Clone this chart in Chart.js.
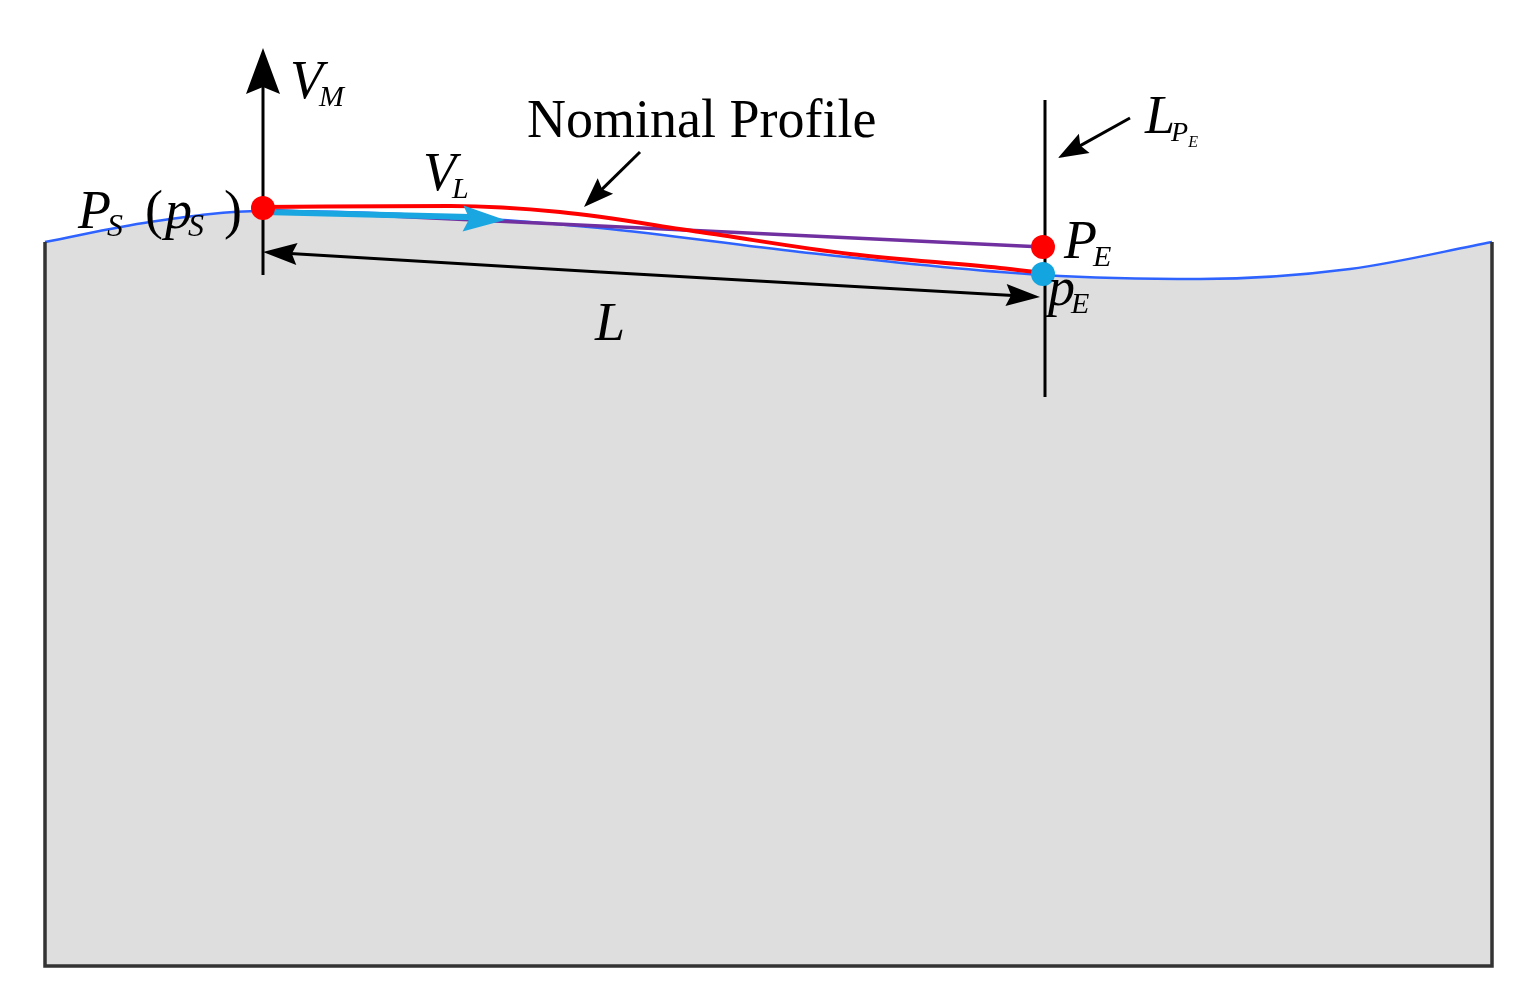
<!DOCTYPE html>
<html><head><meta charset="utf-8">
<script src="https://cdn.jsdelivr.net/npm/chart.js@4/dist/chart.umd.min.js"></script>
<style>html,body{margin:0;padding:0;background:#fff}#c{display:block}</style>
</head><body><canvas id="c" width="1515" height="994"></canvas>
<script>
// Diagram coordinates (in pixel units of 1515x994 frame)
const surfaceX = [45, 150, 263, 400, 600, 800, 1043, 1200, 1350, 1492];
const surfaceY = [242, 222, 211, 214, 228, 252, 275, 279, 269, 242];
const frameX = [45, 45, 1492, 1492];
const frameY = [242, 966, 966, 242];
const profileX = [263, 450, 560, 700, 850, 1000, 1043];
const profileY = [207, 206, 212, 232, 254, 268, 273];
const chordX = [263, 1043];
const chordY = [210, 247];
const vlX = [263, 470];
const vlY = [212, 217];
const vmX = [263, 263];
const vmY = [275, 70];
const lpeX = [1045, 1045];
const lpeY = [100, 397];
const redPtsX = [263, 1043];
const redPtsY = [208, 247];
const cyanPtsX = [1043];
const cyanPtsY = [274];
// arrows: tail -> head
const arrows = [
  {x1:263,y1:80,x2:263,y2:48,w:34,l:46,c:'#000'},
  {x1:450,y1:218,x2:505,y2:220,w:26,l:42,c:'#1aa6e0'},
  {x1:640,y1:152,x2:584,y2:207,w:22,l:30,c:'#000'},
  {x1:1130,y1:118,x2:1058,y2:158,w:22,l:30,c:'#000'},
  {x1:600,y1:272,x2:263,y2:252,w:22,l:34,c:'#000'},
  {x1:600,y1:272,x2:1040,y2:297,w:22,l:34,c:'#000'}
];
const labels = [
  {t:'V', s:'M', x:290, y:98, f:54, sf:30, it:true},
  {t:'Nominal Profile', x:527, y:137, f:54, it:false},
  {t:'V', s:'L', x:423, y:190, f:54, sf:30, it:true},
  {t:'P', s:'S', x:78, y:228, f:54, sf:32, it:true},
  {t:'(', x:145, y:228, f:54, it:false},
  {t:'p', s:'S', x:165, y:228, f:54, sf:32, it:true},
  {t:')', x:224, y:228, f:54, it:false},
  {t:'L', x:595, y:340, f:54, it:true},
  {t:'P', s:'E', x:1064, y:258, f:54, sf:30, it:true},
  {t:'p', s:'E', x:1048, y:305, f:54, sf:30, it:true},
  {t:'L', s:'P', ss:'E', x:1145, y:133, f:54, sf:28, it:true}
];
const pts = (xs, ys) => xs.map((x,i)=>({x, y: ys[i]}));

const deco = {
  id:'deco',
  afterDatasetsDraw(ch){
    const ctx = ch.ctx, X = ch.scales.x, Y = ch.scales.y;
    arrows.forEach(a=>{
      const x1=X.getPixelForValue(a.x1), y1=Y.getPixelForValue(a.y1);
      const x2=X.getPixelForValue(a.x2), y2=Y.getPixelForValue(a.y2);
      const ang=Math.atan2(y2-y1,x2-x1);
      ctx.save(); ctx.strokeStyle=a.c; ctx.fillStyle=a.c; ctx.lineWidth=3;
      ctx.beginPath(); ctx.moveTo(x1,y1);
      ctx.lineTo(x2-Math.cos(ang)*a.l*0.8, y2-Math.sin(ang)*a.l*0.8); ctx.stroke();
      ctx.translate(x2,y2); ctx.rotate(ang);
      ctx.beginPath(); ctx.moveTo(0,0); ctx.lineTo(-a.l,-a.w/2); ctx.lineTo(-a.l*0.85,0); ctx.lineTo(-a.l,a.w/2); ctx.closePath(); ctx.fill();
      ctx.restore();
    });
    labels.forEach(l=>{
      ctx.save(); ctx.fillStyle='#000'; ctx.textBaseline='alphabetic';
      let x=X.getPixelForValue(l.x), y=Y.getPixelForValue(l.y);
      ctx.font=(l.it?'italic ':'')+l.f+'px "Liberation Serif"';
      ctx.fillText(l.t,x,y);
      if(l.s){
        const w=ctx.measureText(l.t).width;
        ctx.font='italic '+l.sf+'px "Liberation Serif"';
        ctx.fillText(l.s,x+w-4,y+8);
        if(l.ss){
          const w2=ctx.measureText(l.s).width;
          ctx.font='italic 16px "Liberation Serif"';
          ctx.fillText(l.ss,x+w-4+w2,y+14);
        }
      }
      ctx.restore();
    });
  }
};

new Chart(document.getElementById('c'), {
  type:'scatter',
  data:{datasets:[
    {order:9, data:pts(surfaceX,surfaceY), showLine:true, borderColor:'#2f63ff', borderWidth:2.5, backgroundColor:'#dedede', fill:{value:966}, cubicInterpolationMode:'monotone', pointRadius:0},
    {order:8, data:pts(frameX,frameY), showLine:true, borderColor:'#333', borderWidth:3.5, pointRadius:0, fill:false},
    {order:7, data:pts(vmX,vmY), showLine:true, borderColor:'#000', borderWidth:3, pointRadius:0},
    {order:6, data:pts(lpeX,lpeY), showLine:true, borderColor:'#000', borderWidth:3, pointRadius:0},
    {order:5, data:pts(chordX,chordY), showLine:true, borderColor:'#7030a0', borderWidth:3.5, pointRadius:0},
    {order:4, data:pts(profileX,profileY), showLine:true, borderColor:'#ff0000', borderWidth:4, cubicInterpolationMode:'monotone', pointRadius:0},
    {order:3, data:pts(vlX,vlY), showLine:true, borderColor:'#1aa6e0', borderWidth:6, pointRadius:0},
    {order:2, data:pts(redPtsX,redPtsY), pointRadius:12, pointBackgroundColor:'#ff0000', pointBorderWidth:0},
    {order:1, data:pts(cyanPtsX,cyanPtsY), pointRadius:12, pointBackgroundColor:'#13a5e0', pointBorderWidth:0}
  ].map(d=>Object.assign(d,{clip:false}))},
  options:{
    responsive:false, animation:false, layout:{padding:0, autoPadding:false},
    plugins:{legend:{display:false}, tooltip:{enabled:false}},
    scales:{
      x:{type:'linear', min:0, max:1515, display:false},
      y:{type:'linear', min:0, max:994, reverse:true, display:false}
    }
  },
  plugins:[deco]
});
</script></body></html>
